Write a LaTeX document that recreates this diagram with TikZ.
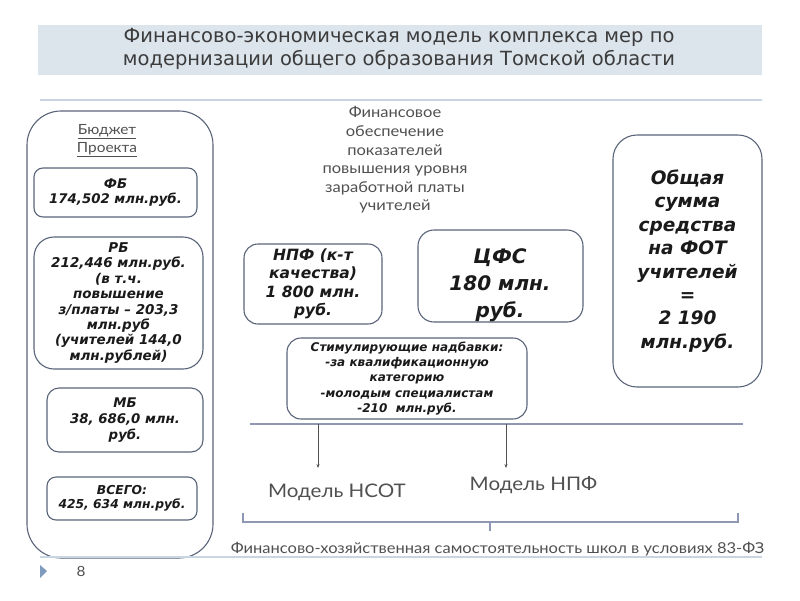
\documentclass[tikz,border=0pt]{standalone}
\usepackage{fontspec}
\setmainfont{DejaVu Sans}
\newfontfamily\geo{Lato}[FakeStretch=1.1]
\usetikzlibrary{arrows.meta}
\definecolor{bandfill}{HTML}{DCE4EC}
\definecolor{bordercol}{HTML}{5A6479}
\definecolor{linecol}{HTML}{8E98B4}
\definecolor{lightline}{HTML}{C9D5E2}
\definecolor{titletext}{HTML}{3C3C3C}
\definecolor{graytext}{HTML}{505050}
\definecolor{bodytext}{HTML}{1A1A1A}
\definecolor{tricol}{HTML}{7F9CBE}
\newcommand\bbi[2]{\fontsize{#1}{#2}\selectfont\bfseries\itshape}
\tikzset{
  box/.style={draw=bordercol, line width=1.1pt, rounded corners=9pt, fill=white,
    align=center, inner sep=0pt, text=bodytext},
  graylabel/.style={text=graytext, align=center, inner sep=0pt},
}
\begin{document}
\begin{tikzpicture}[x=1pt,y=-1pt]
\useasboundingbox (0,0) rectangle (800,600);
% title band
\fill[bandfill] (38,25) rectangle (762,75);
\node[text=titletext, align=center, inner sep=0pt,
  font=\fontsize{19.5}{23}\selectfont] (title) at (399,49)
  {Финансово-экономическая модель комплекса мер по\\модернизации общего образования Томской области};
\draw[lightline, line width=1.2pt] (40,100) -- (762,100);

% left budget box
\node[draw=bordercol, line width=1.1pt, rounded corners=34pt, minimum width=186pt,
  minimum height=447pt, inner sep=0pt] (budget) at (120,334.5) {};
\node[graylabel, font=\geo\fontsize{14}{18}\selectfont] (btitle) at (107,141)
  {\underline{Бюджет}\\\underline{Проекта}};
\node[box, font=\bbi{13.3}{14.5}, minimum width=163pt, minimum height=49pt] (fb) at (115.5,192.5)
  {ФБ\\174,502 млн.руб.};
\node[box, font=\bbi{13.5}{15.4}, minimum width=169pt, minimum height=132pt, rounded corners=20pt] (rb) at (118.5,303)
  {РБ\\212,446 млн.руб.\\(в т.ч.\\повышение\\з/платы – 203,3\\млн.руб\\(учителей 144,0\\млн.рублей)};
\node[box, font=\bbi{13.3}{16}, minimum width=156pt, minimum height=64pt, rounded corners=12pt] (mb) at (125,420)
  {МБ\\38, 686,0 млн.\\руб.};
\node[box, font=\bbi{12.3}{14}, minimum width=150pt, minimum height=43pt] (total) at (122,498.5)
  {ВСЕГО:\\425, 634 млн.руб.};

% middle
\node[graylabel, font=\geo\fontsize{15}{18.6}\selectfont] (fin) at (395,160)
  {Финансовое\\обеспечение\\показателей\\повышения уровня\\заработной платы\\учителей};
\node[box, font=\bbi{15.5}{18.5}, minimum width=138pt, minimum height=80pt, rounded corners=14pt] (npf) at (313,284)
  {НПФ (к-т\\качества)\\1 800 млн.\\руб.};
\node[box, minimum width=165pt, minimum height=92pt, rounded corners=16pt] (cfs) at (500.5,276) {};
\node[text=bodytext, align=center, inner sep=0pt, font=\bbi{20}{27}] (cfstext) at (500,285)
  {ЦФС\\180 млн.\\руб.};
\node[box, font=\bbi{18.5}{23.4}, minimum width=149pt, minimum height=252pt, rounded corners=24pt] (sum) at (687.5,261)
  {Общая\\сумма\\средства\\на ФОТ\\учителей\\=\\2 190\\млн.руб.};
\node[box, font=\bbi{12}{15.2}, minimum width=240pt, minimum height=81pt, rounded corners=14pt] (stim) at (407,378.5)
  {Стимулирующие надбавки:\\-за квалификационную\\категорию\\-молодым специалистам\\-210\ \ млн.руб.};

% line and arrows
\coordinate (l1) at (250,424);
\coordinate (l2) at (743,424);
\draw[linecol, line width=2pt] (l1) -- (l2);
\coordinate (a1s) at (318,424);
\coordinate (a1e) at (318,468);
\coordinate (a2s) at (506,424);
\coordinate (a2e) at (506,468);
\draw[graytext, line width=0.6pt, -{Stealth[length=4pt,width=3pt]}] (a1s) -- (a1e);
\draw[graytext, line width=0.6pt, -{Stealth[length=4pt,width=3pt]}] (a2s) -- (a2e);
\node[graylabel, font=\geo\fontsize{18.7}{22}\selectfont] (nsot) at (337,492) {Модель НСОТ};
\node[graylabel, font=\geo\fontsize{18.7}{22}\selectfont] (mnpf) at (533.5,485) {Модель НПФ};

% bracket
\coordinate (b1) at (243,513);
\coordinate (b2) at (243,522);
\coordinate (b3) at (738,522);
\coordinate (b4) at (738,513);
\coordinate (bc) at (490,522);
\coordinate (bt) at (490,531);
\draw[linecol, line width=1.3pt] (b1) -- (b2) -- (b3) -- (b4);
\draw[linecol, line width=1.3pt] (bc) -- (bt);

% footer
\draw[lightline, line width=1.2pt] (40,557) -- (762,557);
\node[graylabel, font=\geo\fontsize{15}{17}\selectfont] (foot) at (497.5,549)
  {Финансово-хозяйственная самостоятельность школ в условиях 83-ФЗ};
\fill[tricol] (40,565) -- (47,571) -- (40,578) -- cycle;
\node[text=graytext, inner sep=0pt, font=\geo\fontsize{14}{16}\selectfont] (pg) at (81,571) {8};
\end{tikzpicture}
\end{document}
